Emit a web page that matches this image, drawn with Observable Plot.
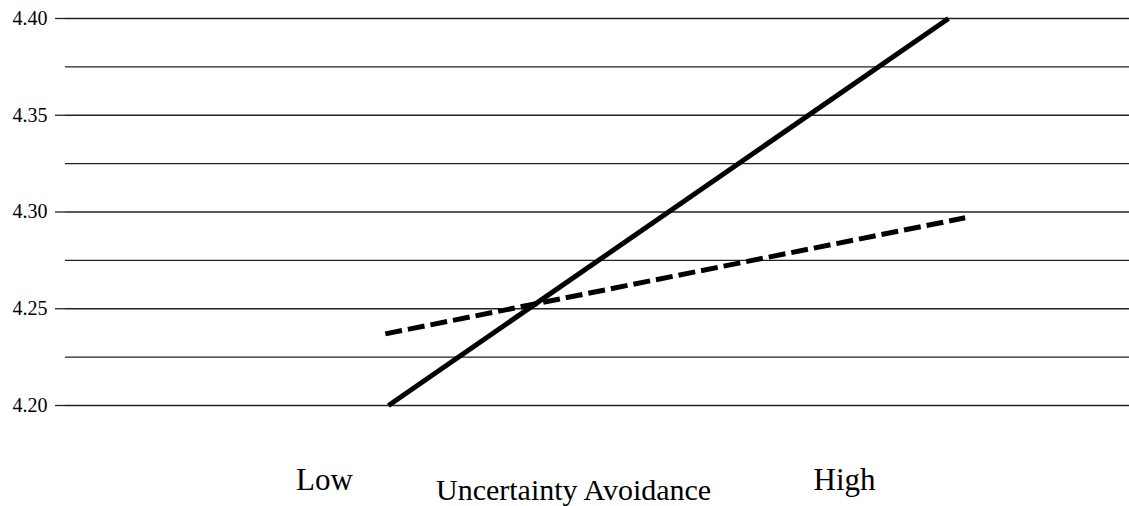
<!DOCTYPE html>
<html>
<head>
<meta charset="utf-8">
<script src="https://cdn.jsdelivr.net/npm/d3@7"></script>
<script src="https://cdn.jsdelivr.net/npm/@observablehq/plot@0.6"></script>
<style>
  html, body { margin: 0; padding: 0; background: #fff; }
  svg { display: block; }
</style>
</head>
<body>
<div id="chart"></div>
<script>
// Category positions on the x axis (Low = 1, High = 2)
const categories = ["Low", "High"];
const categoryPos = [1, 2];
const axisTitle = "Uncertainty Avoidance";

// Series 1 (solid line)
const solidX = [1.123, 2.200];
const solidY = [4.200, 4.400];

// Series 2 (dashed line)
const dashedX = [1.117, 2.232];
const dashedY = [4.237, 4.297];

// Y gridlines and labelled ticks
const gridTicks = [4.200, 4.225, 4.250, 4.275, 4.300, 4.325, 4.350, 4.375, 4.400];
const labelTicks = [4.20, 4.25, 4.30, 4.35, 4.40];

const solid = solidX.map((x, i) => ({x, y: solidY[i]}));
const dashed = dashedX.map((x, i) => ({x, y: dashedY[i]}));

const font = "'Liberation Serif', 'Times New Roman', serif";

const chart = Plot.plot({
  width: 1129,
  height: 506,
  marginTop: 18,
  marginBottom: 101,
  marginLeft: 65,
  marginRight: 0,
  style: {fontFamily: font, background: "#fff", color: "#000"},
  x: {domain: [0.502, 2.548]},
  y: {domain: [4.20, 4.40]},
  marks: [
    Plot.ruleY(gridTicks, {stroke: "#222", strokeWidth: 1.3}),
    Plot.axisY(labelTicks, {
      tickSize: 10, tickPadding: 8, fontSize: 20, stroke: "#222", strokeWidth: 1.3,
      tickFormat: d3.format(".2f"), label: null
    }),
    Plot.axisX(categoryPos, {
      tickSize: 0, tickPadding: 62, fontSize: 31,
      tickFormat: (d, i) => categories[i], label: null
    }),
    Plot.text([axisTitle], {
      x: 1.479, y: 4.151, text: d => d, fontSize: 30,
      textAnchor: "middle", lineAnchor: "bottom", fill: "#000"
    }),
    Plot.line(dashed, {x: "x", y: "y", stroke: "#000", strokeWidth: 5, strokeDasharray: "17,6", strokeLinecap: "butt"}),
    Plot.line(solid, {x: "x", y: "y", stroke: "#000", strokeWidth: 5, strokeLinecap: "butt"})
  ]
});
document.getElementById("chart").appendChild(chart);
</script>
</body>
</html>
